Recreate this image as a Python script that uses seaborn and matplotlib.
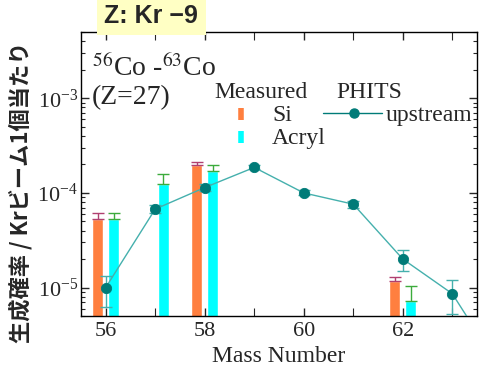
import matplotlib
matplotlib.use("Agg")
import matplotlib.pyplot as plt
import numpy as np
import pandas as pd
import seaborn as sns
from matplotlib.ticker import FixedLocator, LogLocator, NullFormatter

# measured yields (Si / Acryl targets) with upper error limits
mass_meas = [56, 57, 58, 62]
si_vals = [5.25e-5, np.nan, 1.99e-4, 1.17e-5]
si_err_top = [6.2e-5, np.nan, 2.1e-4, 1.29e-5]
acryl_vals = [5.3e-5, 1.24e-4, 1.7e-4, 7.2e-6]
acryl_err_top = [6.1e-5, 1.58e-4, 1.97e-4, 1.03e-5]

# PHITS upstream calculation
mass_phits = [56, 57, 58, 59, 60, 61, 62, 63, 64]
phits_vals = [1.0e-5, 6.75e-5, 1.14e-4, 1.86e-4, 1.0e-4, 7.6e-5, 2.0e-5, 8.6e-6, 1.3e-6]
phits_lo = [0.63e-5, 6.1e-5, 1.06e-4, 1.78e-4, 0.94e-4, 7.0e-5, 1.5e-5, 5.3e-6, 1.0e-6]
phits_hi = [1.32e-5, 7.5e-5, 1.23e-4, 1.95e-4, 1.07e-4, 8.3e-5, 2.5e-5, 1.2e-5, 1.6e-6]

x_ticks = [56, 58, 60, 62]

sns.set_theme(style="ticks")
plt.rcParams["font.family"] = ["Liberation Serif", "DejaVu Serif"]
plt.rcParams["mathtext.fontset"] = "stix"

SI_C = "#ff7f3f"
SI_ERR = "#b04070"
AC_C = "#00ffff"
AC_ERR = "#3cab3c"
PH_C = "#007b78"
PH_LINE = "#45b0ad"

fig = plt.figure(figsize=(4.79, 3.74), dpi=100)
ax = fig.add_axes([0.169, 0.155, 0.827, 0.759])
ax.set_yscale("log")

off, w = 0.16, 0.22
xs = np.array(mass_meas, dtype=float)
si = np.array(si_vals)
ac = np.array(acryl_vals)
ax.bar(xs - off, si, width=w, color=SI_C, log=True, zorder=2)
ax.bar(xs + off, ac, width=w, color=AC_C, log=True, zorder=2)
ax.errorbar(xs - off, si, yerr=[np.zeros_like(si), np.array(si_err_top) - si],
            fmt="none", ecolor=SI_ERR, elinewidth=1, capsize=4, zorder=3)
ax.errorbar(xs + off, ac, yerr=[np.zeros_like(ac), np.array(acryl_err_top) - ac],
            fmt="none", ecolor=AC_ERR, elinewidth=1, capsize=4, zorder=3)

ph = pd.DataFrame({"mass": mass_phits, "val": phits_vals})
sns.lineplot(data=ph, x="mass", y="val", ax=ax, color=PH_LINE, lw=1, zorder=4)
pv = np.array(phits_vals)
ax.errorbar(mass_phits, pv, yerr=[pv - np.array(phits_lo), np.array(phits_hi) - pv],
            fmt="none", ecolor=PH_LINE, elinewidth=1, capsize=4, zorder=4)
sns.scatterplot(data=ph, x="mass", y="val", ax=ax, color=PH_C, s=55,
                edgecolor=PH_C, zorder=5)

ax.set_xlim(55.5, 63.5)
ax.set_ylim(5e-6, 5e-3)
ax.xaxis.set_major_locator(FixedLocator(x_ticks))
ax.xaxis.set_minor_locator(FixedLocator([57, 59, 61, 63]))
ax.yaxis.set_major_locator(LogLocator(base=10))
ax.yaxis.set_minor_locator(LogLocator(base=10, subs=np.arange(2, 10)))
ax.yaxis.set_minor_formatter(NullFormatter())
ax.tick_params(which="both", direction="in", top=True, right=True)
ax.tick_params(axis="x", labelsize=16, pad=4)
ax.tick_params(axis="y", labelsize=16, pad=2)
ax.tick_params(which="major", length=6, width=1)
ax.tick_params(which="minor", length=3, width=0.8)
ax.tick_params(axis="x", which="minor", length=6)
for s in ax.spines.values():
    s.set_linewidth(1)
    s.set_color("black")

ax.set_xlabel("Mass Number", fontsize=17, labelpad=4)
ax.set_ylabel("")

ax.text(0.028, 0.873, r"$^{56}$Co -$^{63}$Co", transform=ax.transAxes, fontsize=20, va="center")
ax.text(0.028, 0.768, "(Z=27)", transform=ax.transAxes, fontsize=20, va="center")

# legend drawn by hand
fs = 17
ax.text(0.338, 0.789, "Measured", transform=ax.transAxes, fontsize=fs, va="center")
ax.text(0.646, 0.789, "PHITS", transform=ax.transAxes, fontsize=fs, va="center")
ax.text(0.482, 0.708, "Si", transform=ax.transAxes, fontsize=fs, va="center")
ax.text(0.482, 0.627, "Acryl", transform=ax.transAxes, fontsize=fs, va="center")
ax.plot([0.403], [0.712], transform=ax.transAxes, marker="|", ms=8, mew=4,
        color=SI_C, ls="none")
ax.plot([0.403], [0.630], transform=ax.transAxes, marker="|", ms=8, mew=4,
        color=AC_C, ls="none")
ax.plot([0.611, 0.760], [0.715, 0.715], transform=ax.transAxes, color=PH_C, lw=1)
ax.plot([0.689], [0.715], transform=ax.transAxes, marker="o", ms=6.5, color=PH_C)
ax.text(0.768, 0.708, "upstream", transform=ax.transAxes, fontsize=fs, va="center")

fig.text(0.044, 0.487, "生成確率 / Krビーム1個当たり", rotation=90, ha="center", va="center",
         fontsize=16, fontweight="bold", family=["Noto Sans CJK JP", "DejaVu Sans"])
fig.text(0.316, 0.958, "Z: Kr −9", ha="center", va="center", fontsize=18, fontweight="bold",
         family=["Liberation Sans", "DejaVu Sans"],
         bbox=dict(boxstyle="square,pad=0.3", facecolor="#ffffc4", edgecolor="none"))

fig.savefig("out.png", dpi=100)
